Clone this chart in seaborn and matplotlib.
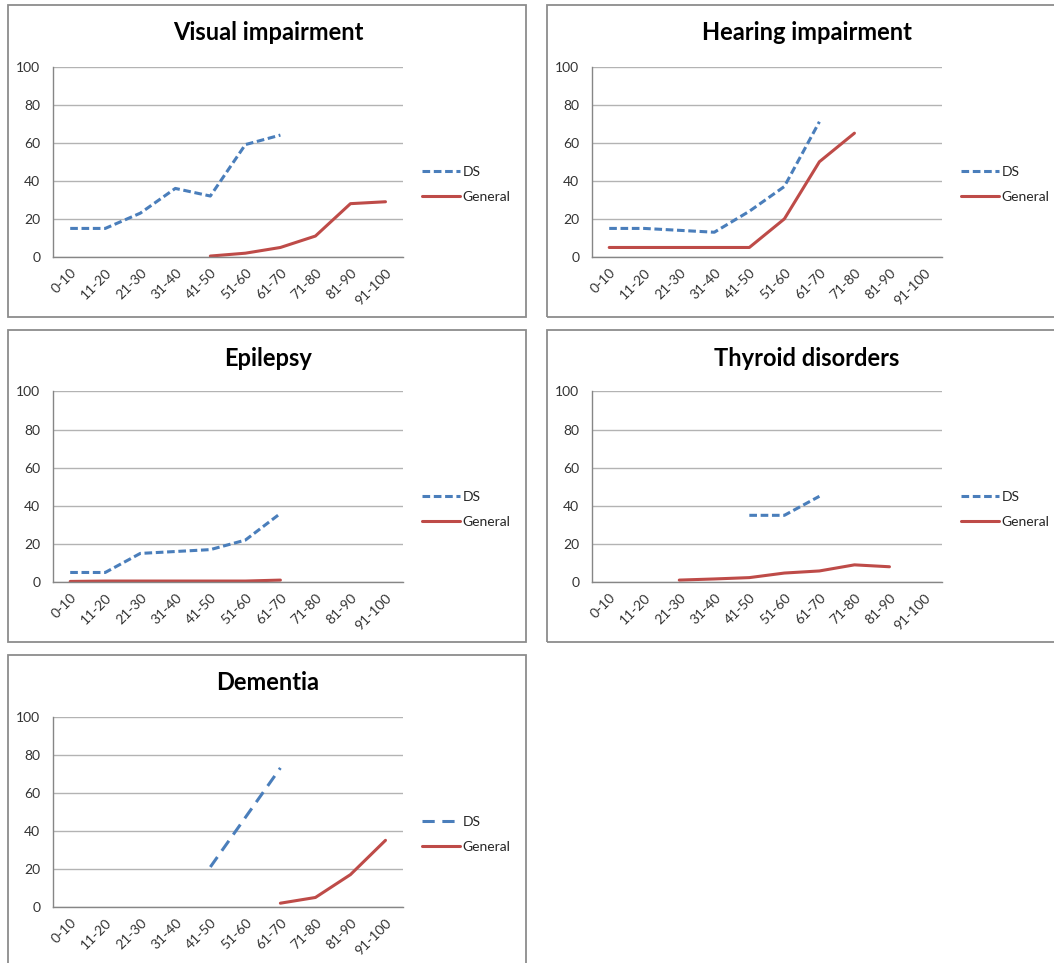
import numpy as np
import pandas as pd
import matplotlib.pyplot as plt
import matplotlib.patches as mpatches
import seaborn as sns

nan = np.nan

AGE_GROUPS = ['0-10', '11-20', '21-30', '31-40', '41-50',
              '51-60', '61-70', '71-80', '81-90', '91-100']

visual_ds = [15, 15, 23, 36, 32, 59, 64, nan, nan, nan]
visual_gen = [nan, nan, nan, nan, 0.5, 2, 5, 11, 28, 29]
hearing_ds = [15, 15, 14, 13, 24, 37, 71, nan, nan, nan]
hearing_gen = [5, 5, 5, 5, 5, 20, 50, 65, nan, nan]
epilepsy_ds = [5, 5, 15, 16, 17, 22, 36, nan, nan, nan]
epilepsy_gen = [0.3, 0.5, 0.5, 0.5, 0.5, 0.5, 1, nan, nan, nan]
thyroid_ds = [nan, nan, nan, nan, 35, 35, 45, nan, nan, nan]
thyroid_gen = [nan, nan, 1, 1.6, 2.3, 4.7, 5.8, 9, 8, nan]
dementia_ds = [nan, nan, nan, nan, 21, 47, 73, nan, nan, nan]
dementia_gen = [nan, nan, nan, nan, nan, nan, 2, 5, 17, 35]

TITLES = ['Visual impairment', 'Hearing impairment', 'Epilepsy',
          'Thyroid disorders', 'Dementia']
DS_SERIES = [visual_ds, hearing_ds, epilepsy_ds, thyroid_ds, dementia_ds]
GEN_SERIES = [visual_gen, hearing_gen, epilepsy_gen, thyroid_gen, dementia_gen]

DS_COLOR = '#4a7ebb'
GEN_COLOR = '#be4b48'
GRID = '#b3b3b3'
AXIS = '#868686'

sns.set_style('white')
plt.rcParams['font.family'] = ['Lato', 'DejaVu Sans']

W, H = 1054, 963
fig = plt.figure(figsize=(W / 100, H / 100), dpi=100)

def px_box(x0, y0, x1, y1):
    # pixel box (top-left origin) -> figure fraction [l, b, w, h]
    return [x0 / W, 1 - y1 / H, (x1 - x0) / W, (y1 - y0) / H]

# panel offsets in pixels (column, row)
offsets = [(0, 0), (539, 0), (0, 325), (539, 325), (0, 650)]
pos = np.arange(len(AGE_GROUPS))

for i, (ox, oy) in enumerate(offsets):
    # panel border
    right = 526 + ox if ox == 0 else 1070
    bottom = 317 + oy if oy < 650 else 980
    l, b, w, h = px_box(8 + ox, 5 + oy, right, bottom)
    fig.patches.append(mpatches.Rectangle((l, b), w, h, transform=fig.transFigure,
                                          fill=False, edgecolor='#8c8c8c', lw=1.3))

    ax = fig.add_axes(px_box(52.7 + ox, 66.5 + oy, 403 + ox, 257 + oy))
    df = pd.DataFrame({'x': pos, 'DS': DS_SERIES[i], 'General': GEN_SERIES[i]})

    sns.lineplot(data=df, x='x', y='DS', ax=ax, color=DS_COLOR, lw=2.2,
                 label='DS', errorbar=None)
    ax.lines[-1].set_dashes((4, 2.5) if i == 4 else (2.5, 1.2))
    sns.lineplot(data=df, x='x', y='General', ax=ax, color=GEN_COLOR, lw=2.2,
                 label='General', errorbar=None)

    ax.set_xlim(-0.5, len(AGE_GROUPS) - 0.5)
    ax.set_ylim(0, 100)
    ax.set_yticks(range(0, 101, 20))
    ax.set_xticks(pos)
    ax.set_xticklabels(AGE_GROUPS, rotation=45, ha='right', rotation_mode='anchor',
                       fontsize=10, color='#333333')
    ax.set_xticks(np.arange(-0.5, len(AGE_GROUPS)), minor=True)
    ax.tick_params(axis='x', which='major', length=0, pad=7)
    ax.tick_params(axis='x', which='minor', length=5, color=AXIS, width=1)
    ax.tick_params(axis='y', length=6, color=AXIS, width=1, labelsize=10,
                   labelcolor='#333333', pad=3)
    ax.set_xlabel('')
    ax.set_ylabel('')
    ax.grid(axis='y', color=GRID, lw=1)
    ax.set_axisbelow(True)
    for s in ['top', 'right']:
        ax.spines[s].set_visible(False)
    for s in ['left', 'bottom']:
        ax.spines[s].set_color(AXIS)
        ax.spines[s].set_linewidth(1)

    leg = ax.legend(loc='center left', bbox_to_anchor=(1.055, 0.38),
                    frameon=False, fontsize=10, handlelength=2.7,
                    handletextpad=0.2, labelspacing=0.95,
                    borderpad=0, borderaxespad=0)
    leg.get_lines()[0].set_dashes((4, 2.5) if i == 4 else (2.5, 1.2))

    fig.text((268 + ox) / W, 1 - (33 + oy) / H, TITLES[i], ha='center',
             va='center', fontsize=17, fontweight='bold', color='black')

plt.savefig('out.png', dpi=100)
